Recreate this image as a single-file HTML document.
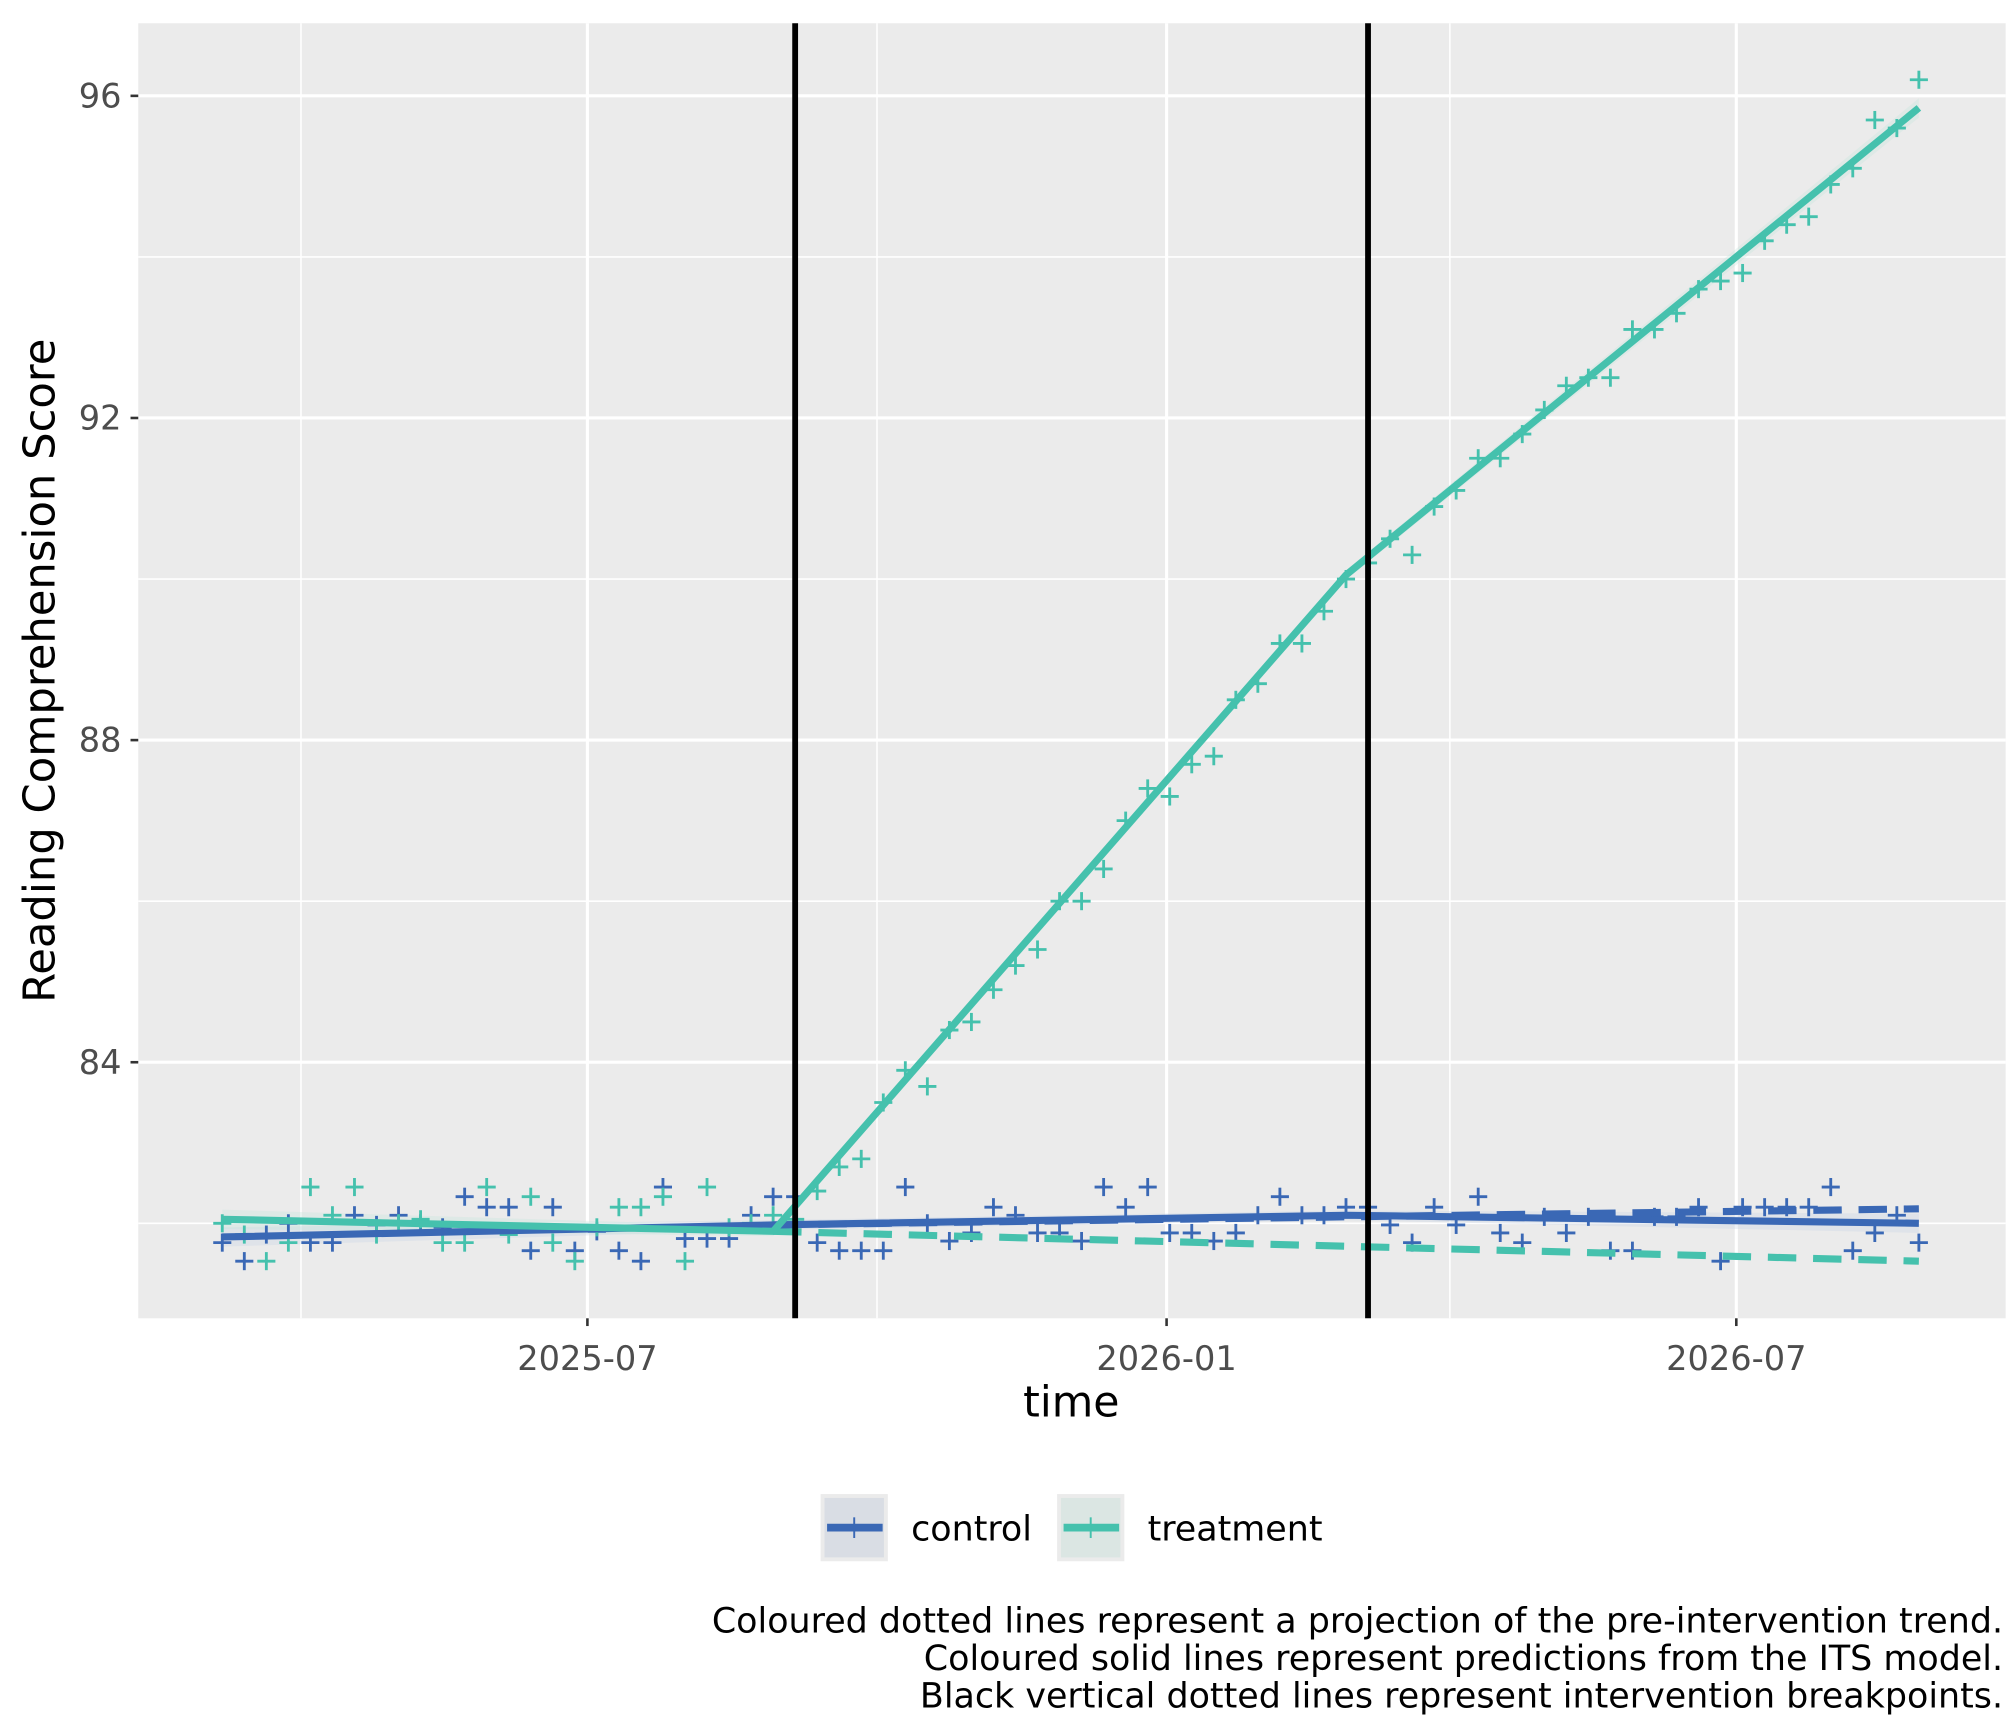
<!DOCTYPE html>
<html><head><meta charset="utf-8"><style>
html,body{margin:0;padding:0;background:#fff;}
svg{display:block;font-family:"DejaVu Sans","Liberation Sans",sans-serif;}
</style></head><body>
<svg id="chart" width="2016" height="1728" viewBox="0 0 1560 1337" preserveAspectRatio="none" xmlns="http://www.w3.org/2000/svg">
<rect x="0" y="0" width="1560" height="1337" fill="#ffffff"/>
<rect x="107" y="18" width="1445" height="1002" fill="#ebebeb"/>
<g id="grid"></g>
<g id="ribbons"></g>
<g id="points"></g>
<g id="lines"></g>
<g id="vlines"></g>
<g id="axes"></g>
<text x="829" y="1096" font-size="33" text-anchor="middle" fill="#000">time</text>
<text transform="translate(42,519) rotate(-90)" font-size="33.5" text-anchor="middle" fill="#000">Reading Comprehension Score</text>
<g>
<g>
<rect x="635" y="1156" width="52" height="52" fill="#ebebeb"/>
<rect x="638" y="1159" width="46" height="46" fill="#d9dde4"/>
<line x1="640" y1="1182" x2="683" y2="1182" stroke="#3a68b5" stroke-width="6"/>
<line x1="661" y1="1174" x2="661" y2="1190" stroke="#3a68b5" stroke-width="1.5"/>
<text x="705" y="1192" font-size="27" fill="#000">control</text>
</g>
<g>
<rect x="818" y="1156" width="52" height="52" fill="#ebebeb"/>
<rect x="821" y="1159" width="46" height="46" fill="#dbe6e3"/>
<line x1="823" y1="1182" x2="866" y2="1182" stroke="#45c1ad" stroke-width="6"/>
<line x1="844" y1="1174" x2="844" y2="1190" stroke="#45c1ad" stroke-width="1.5"/>
<text x="888" y="1192" font-size="27" fill="#000">treatment</text>
</g>
</g>
<g font-size="27" text-anchor="end" fill="#000">
<text x="1550" y="1263">Coloured dotted lines represent a projection of the pre-intervention trend.</text>
<text x="1550" y="1292">Coloured solid lines represent predictions from the ITS model.</text>
<text x="1550" y="1321">Black vertical dotted lines represent intervention breakpoints.</text>
</g>
</svg>
<script>
const startDate = "2025-03-07";
const controlValues = [81.76,81.53,81.86,82.0,81.76,81.76,82.1,81.98,82.1,82.0,81.95,82.33,82.2,82.2,81.66,82.2,81.66,81.9,81.66,81.53,82.45,81.81,81.81,81.81,82.1,82.33,
82.33,81.76,81.66,81.66,81.66,82.45,82.0,81.78,81.88,82.2,82.1,81.88,81.88,81.78,82.45,82.2,82.45,81.88,81.88,81.78,81.88,82.1,82.33,82.1,82.1,82.2,82.2,
81.98,81.76,82.2,81.98,82.33,81.88,81.76,82.08,81.88,82.08,81.66,81.66,82.08,82.08,82.2,81.53,82.2,82.2,82.2,82.2,82.45,81.66,81.88,82.1,81.76];
const treatmentValues = [82.0,81.86,81.53,81.76,82.45,82.1,82.45,81.86,82.0,82.05,81.76,81.76,82.45,81.86,82.33,81.76,81.53,81.95,82.2,82.2,82.33,81.53,82.45,81.95,82.0,82.1,
82.05,82.4,82.7,82.8,83.5,83.9,83.7,84.4,84.5,84.9,85.2,85.4,86.0,86.0,86.4,87.0,87.4,87.3,87.7,87.8,88.5,88.7,89.2,89.2,89.6,90.0,90.2,
90.5,90.3,90.9,91.1,91.5,91.5,91.8,92.1,92.4,92.5,92.5,93.1,93.1,93.3,93.6,93.7,93.8,94.2,94.4,94.5,94.9,95.1,95.7,95.6,96.2];
const fitWeeks = [0,25,51,77];
const controlFit = [81.83,81.98,82.1,82.0];
const treatmentFit = [82.05,81.9,90.05,95.85];
const projWeeks = [25,77];
const controlProj = [81.98,82.18];
const treatmentProj = [81.9,81.53];
const breakpoints = ["2025-09-05","2026-03-06"];
const yTicks = [84,88,92,96];
const yMinor = [82,86,90,94];
const xTickDates = ["2025-07-01","2026-01-01","2026-07-01"];
const xTickLabels = ["2025-07","2026-01","2026-07"];
const xMinorDates = ["2025-04-01","2025-10-01","2026-04-01"];

const NS="http://www.w3.org/2000/svg";
const t0=Date.parse(startDate+"T00:00:00Z");
function dayOf(d){return (Date.parse(d+"T00:00:00Z")-t0)/86400000;}
function xDay(day){return 172+2.4357*day;}
function xWeek(i){return xDay(7*i);}
function xDate(d){return xDay(dayOf(d));}
function y(v){return 946.5-(v-82)*62.31;}
function mk(tag,attrs,parent){const e=document.createElementNS(NS,tag);for(const k in attrs)e.setAttribute(k,attrs[k]);parent.appendChild(e);return e;}
const grid=document.getElementById('grid');
yMinor.forEach(v=>{const l=mk('line',{x1:107,x2:1552,y1:y(v),y2:y(v),stroke:'#fff','stroke-width':1.2},grid);

});
xMinorDates.forEach(d=>{const l=mk('line',{x1:xDate(d),x2:xDate(d),y1:18,y2:1020,stroke:'#fff','stroke-width':1.2},grid);

});
yTicks.forEach(v=>{const l=mk('line',{x1:107,x2:1552,y1:y(v),y2:y(v),stroke:'#fff','stroke-width':2.4},grid);

});
xTickDates.forEach(d=>{const l=mk('line',{x1:xDate(d),x2:xDate(d),y1:18,y2:1020,stroke:'#fff','stroke-width':2.4},grid);

});
const axes=document.getElementById('axes');
yTicks.forEach(v=>{const t=mk('line',{x1:101,x2:107,y1:y(v),y2:y(v),stroke:'#333','stroke-width':2},axes);


const tx=mk('text',{x:94,y:y(v)+9,'font-size':26,'text-anchor':'end',fill:'#4d4d4d'},axes);tx.textContent=String(v);

});
xTickDates.forEach((d,i)=>{const t=mk('line',{x1:xDate(d),x2:xDate(d),y1:1020,y2:1026,stroke:'#333','stroke-width':2},axes);


const tx=mk('text',{x:xDate(d),y:1060,'font-size':26,'text-anchor':'middle',fill:'#4d4d4d'},axes);tx.textContent=xTickLabels[i];

});
const rib=document.getElementById('ribbons');
function ribbon(ws,vs,col){let up=[],dn=[];ws.forEach((wk,i)=>{const hw=(i==0||i==ws.length-1)?0.12:0.06;up.push(xWeek(wk)+','+y(vs[i]+hw));dn.unshift(xWeek(wk)+','+y(vs[i]-hw));});
return mk('polygon',{points:up.concat(dn).join(' '),fill:col,opacity:0.35},rib);}
let r1=ribbon(fitWeeks,controlFit,'#c8d3e6');


let r2=ribbon(fitWeeks,treatmentFit,'#c6e4de');


const pts=document.getElementById('points');
function cross(i,v,col){const g=mk('g',{stroke:col,'stroke-width':2.2},pts);const cx=xWeek(i),cy=y(v);
mk('line',{x1:cx-7,x2:cx+7,y1:cy,y2:cy},g);mk('line',{x1:cx,x2:cx,y1:cy-7,y2:cy+7},g);return g;}
controlValues.forEach((v,i)=>{const g=cross(i,v,'#3a68b5');

});
treatmentValues.forEach((v,i)=>{const g=cross(i,v,'#45c1ad');

});
const lines=document.getElementById('lines');
function poly(ws,vs,col,dash){const p=ws.map((wk,i)=>xWeek(wk)+','+y(vs[i])).join(' ');const a={points:p,fill:'none',stroke:col,'stroke-width':5.5,'stroke-linejoin':'round'};if(dash)a['stroke-dasharray']=dash;return mk('polyline',a,lines);}
let l1=poly(projWeeks,treatmentProj,'#45c1ad','22 13');


let l2=poly(fitWeeks,controlFit,'#3a68b5');


let l3=poly(projWeeks,controlProj,'#3a68b5','22 13');


let l4=poly(fitWeeks,treatmentFit,'#45c1ad');


const vl=document.getElementById('vlines');
breakpoints.forEach(d=>{const l=mk('line',{x1:xDate(d),x2:xDate(d),y1:18,y2:1020,stroke:'#000','stroke-width':4.5},vl);

});
</script>
</body></html>
